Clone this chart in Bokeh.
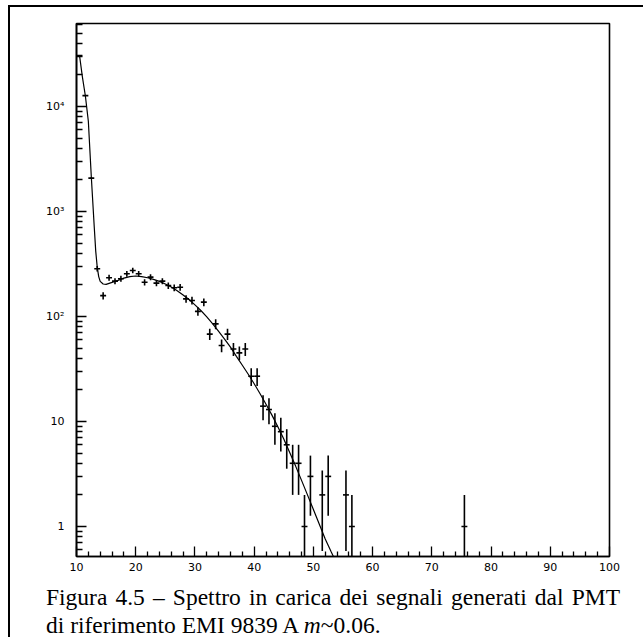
import numpy as np
from bokeh.plotting import figure
from bokeh.models import FixedTicker, Div, ColumnDataSource
from bokeh.layouts import column
from bokeh.embed import file_html
from bokeh.resources import INLINE

# ---- data ----
bin_centers = [10.5, 11.5, 12.5, 13.5, 14.5, 15.5, 16.5, 17.5, 18.5, 19.5,
               20.5, 21.5, 22.5, 23.5, 24.5, 25.5, 26.5, 27.5, 28.5, 29.5,
               30.5, 31.5, 32.5, 33.5, 34.5, 35.5, 36.5, 37.5, 38.5, 39.5,
               40.5, 41.5, 42.5, 43.5, 44.5, 45.5, 46.5, 47.5, 48.5, 49.5,
               51.5, 52.5, 55.5, 56.5, 75.5]
counts = [30600, 12700, 2080, 285, 158, 234, 217, 229, 255, 274,
          255, 212, 237, 208, 217, 197, 188, 190, 147, 142,
          112, 137, 68, 85, 53, 68, 49, 45, 49, 27,
          27, 14, 13, 9, 8, 6, 4, 4, 1, 3,
          2, 3, 2, 1, 1]

fit_x = [10.5, 11.0, 11.5, 12.0, 12.5, 13.0, 13.25, 13.5, 13.75, 14.0, 14.5, 15.0,
         16, 17, 18, 19, 20, 21, 22, 23, 24, 25, 26, 27, 28, 29, 30, 31, 32, 33,
         34, 35, 36, 37, 38, 39, 40, 41, 42, 43, 44, 45, 46, 47, 48, 49, 50, 51,
         52, 53, 54]
fit_y = [30900, 19050, 12590, 7240, 2140, 708, 417, 295, 240, 216, 204, 202,
         211, 221, 232, 240, 243, 240, 234, 226, 216, 204, 191, 176, 160, 145,
         129, 114, 99, 85, 72, 61, 51, 41.7, 34.3, 28.2, 22.9, 18.4, 14.6, 11.5,
         8.9, 6.8, 5.07, 3.76, 2.75, 2.0, 1.45, 1.05, 0.76, 0.575, 0.436]

x_ticks = [10, 20, 30, 40, 50, 60, 70, 80, 90, 100]
y_ticks = [1, 10, 100, 1000, 10000]
y_tick_labels = ["1", "10", "10²", "10³", "10⁴"]

caption_line1 = "Figura 4.5 – Spettro in carica dei segnali generati dal PMT"
caption_line2 = ("di riferimento EMI 9839 A ", "m", "~0.06.")

# ---- derived ----
bc = np.array(bin_centers, dtype=float)
cnt = np.array(counts, dtype=float)
err = np.sqrt(cnt)
half_w = 0.5
src = ColumnDataSource(dict(
    x=bc, y=cnt,
    x0=bc - half_w, x1=bc + half_w,
    ylo=np.maximum(cnt - err, 1e-3), yhi=cnt + err,
))

p = figure(width=630, height=571, x_range=(10, 100), y_range=(0.518, 61700),
           y_axis_type="log", output_backend="svg", toolbar_location=None,
           min_border_left=66, min_border_right=31, min_border_top=16,
           min_border_bottom=22, background_fill_color="white",
           border_fill_color="white")
p.grid.visible = False
p.outline_line_color = "black"
p.outline_line_width = 1.6

# fit curve
p.line(fit_x, fit_y, line_color="black", line_width=1.2)
# data crosses with error bars
p.segment(x0="x", y0="ylo", x1="x", y1="yhi", source=src, line_color="black", line_width=1.6)
p.segment(x0="x0", y0="y", x1="x1", y1="y", source=src, line_color="black", line_width=1.6)

# axes
minor_x = [v for v in range(12, 100, 2) if v % 10 != 0]
p.xaxis.ticker = FixedTicker(ticks=x_ticks, minor_ticks=minor_x)
minor_y = [m * 10.0 ** k for k in range(-1, 5) for m in range(2, 10)]
p.yaxis.ticker = FixedTicker(ticks=y_ticks, minor_ticks=minor_y)
p.yaxis.major_label_overrides = {t: l for t, l in zip(y_ticks, y_tick_labels)}

for ax in (p.xaxis[0], p.yaxis[0]):
    ax.axis_line_color = "black"
    ax.axis_line_width = 1.6
    ax.major_tick_line_color = "black"
    ax.minor_tick_line_color = "black"
    ax.major_tick_line_width = 1.3
    ax.minor_tick_line_width = 1.3
    ax.major_tick_out = 0
    ax.minor_tick_out = 0
    ax.major_tick_in = 10
    ax.minor_tick_in = 6
    ax.major_label_text_font = "DejaVu Sans"
    ax.major_label_text_font_size = "11px"
    ax.major_label_text_color = "#000000"
p.xaxis.minor_tick_in = 5
p.xaxis.major_label_standoff = 6
p.yaxis.major_label_standoff = 12

cap_html = (
    '<div style="font-family:\'Liberation Serif\',\'Times New Roman\',serif;'
    'font-size:23.5px;line-height:28px;color:#000;width:574px;margin-left:31px;">'
    '<div style="text-align:justify;text-align-last:justify;">' + caption_line1 + '</div>'
    '<div>' + caption_line2[0] + '<i>' + caption_line2[1] + '</i>' + caption_line2[2] + '</div>'
    '</div>'
)
cap = Div(text=cap_html, width=630, height=58)

layout = column(p, cap, styles={
    "margin-left": "8px", "margin-top": "5px",
    "border-left": "2px solid black", "border-top": "2px solid black",
    "border-right": "2px solid black",
})

open("out.html", "w").write(file_html(layout, INLINE))
